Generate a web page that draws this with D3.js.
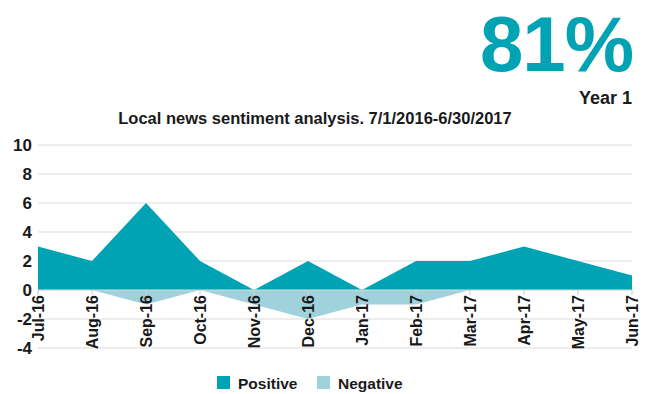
<!DOCTYPE html>
<html>
<head>
<meta charset="utf-8">
<script src="https://cdn.jsdelivr.net/npm/d3@7"></script>
<style>
  html, body { margin: 0; padding: 0; background: #fff; }
  svg { display: block; font-family: "Liberation Sans", Arial, sans-serif; }
</style>
</head>
<body>
<svg id="chart" width="646" height="394"></svg>
<script>
// Monthly sentiment counts for local news coverage, July 2016 – June 2017
const months = ["Jul-16", "Aug-16", "Sep-16", "Oct-16", "Nov-16", "Dec-16",
                "Jan-17", "Feb-17", "Mar-17", "Apr-17", "May-17", "Jun-17"];
const positive = [3, 2, 6, 2, 0, 2, 0, 2, 2, 3, 2, 1];
const negative = [0, 0, -1, 0, -1, -2, -1, -1, 0, 0, 0, 0];
const yTicks = [10, 8, 6, 4, 2, 0, -2, -4];

const colors = { positive: "#00a3b4", negative: "#a0d2db" };

const svg = d3.select("#chart");

const x = d3.scalePoint().domain(months).range([38, 632]);
const y = d3.scaleLinear().domain([-4, 10]).range([348, 145]);

// Headline figure
svg.append("text")
  .attr("x", 633).attr("y", 71)
  .attr("text-anchor", "end")
  .attr("fill", colors.positive)
  .style("font-size", "78px").style("font-weight", "bold")
  .style("letter-spacing", "-1px")
  .text("81%");

svg.append("text")
  .attr("x", 632).attr("y", 104)
  .attr("text-anchor", "end")
  .attr("fill", "#1a1a1a")
  .style("font-size", "18px").style("font-weight", "bold")
  .text("Year 1");

// Title
svg.append("text")
  .attr("x", 315).attr("y", 124)
  .attr("text-anchor", "middle")
  .attr("fill", "#1a1a1a")
  .style("font-size", "16.5px").style("font-weight", "bold")
  .text("Local news sentiment analysis. 7/1/2016-6/30/2017");

// Horizontal gridlines
svg.append("g")
  .selectAll("line")
  .data(yTicks)
  .join("line")
  .attr("x1", 38).attr("x2", 632)
  .attr("y1", d => y(d)).attr("y2", d => y(d))
  .attr("stroke", "#dcdcdc").attr("stroke-width", 1.2);

// Areas
const area = d3.area()
  .x(d => x(d.m)).y0(y(0)).y1(d => y(d.v));

svg.append("path")
  .datum(months.map((m, i) => ({ m, v: negative[i] })))
  .attr("fill", colors.negative)
  .attr("d", area);

svg.append("path")
  .datum(months.map((m, i) => ({ m, v: positive[i] })))
  .attr("fill", colors.positive)
  .attr("d", area);

// Zero line with category ticks
svg.append("line")
  .attr("x1", 38).attr("x2", 632)
  .attr("y1", y(0)).attr("y2", y(0))
  .attr("stroke", "#dcdcdc").attr("stroke-width", 1.2);

svg.append("g")
  .selectAll("line")
  .data(months)
  .join("line")
  .attr("x1", d => x(d)).attr("x2", d => x(d))
  .attr("y1", y(0)).attr("y2", y(0) + 5)
  .attr("stroke", "#d0d0d0").attr("stroke-width", 1.2);

// Y axis labels
svg.append("g")
  .selectAll("text")
  .data(yTicks)
  .join("text")
  .attr("x", 32).attr("y", d => y(d) + 6)
  .attr("text-anchor", "end")
  .attr("fill", "#1a1a1a")
  .style("font-size", "17px").style("font-weight", "bold")
  .text(d => d);

// X axis labels, rotated
svg.append("g")
  .selectAll("text")
  .data(months)
  .join("text")
  .attr("transform", d => `translate(${x(d) + 6},${y(0) + 5}) rotate(-90)`)
  .attr("text-anchor", "end")
  .attr("fill", "#1a1a1a")
  .style("font-size", "16px").style("font-weight", "bold")
  .text(d => d);

// Legend
const legend = [
  { label: "Positive", color: colors.positive, x: 217 },
  { label: "Negative", color: colors.negative, x: 317 }
];
const lg = svg.append("g")
  .selectAll("g")
  .data(legend)
  .join("g")
  .attr("transform", d => `translate(${d.x},376)`);
lg.append("rect")
  .attr("width", 13).attr("height", 13)
  .attr("fill", d => d.color);
lg.append("text")
  .attr("x", 21).attr("y", 12.5)
  .attr("fill", "#1a1a1a")
  .style("font-size", "15.5px").style("font-weight", "bold")
  .text(d => d.label);
</script>
</body>
</html>
